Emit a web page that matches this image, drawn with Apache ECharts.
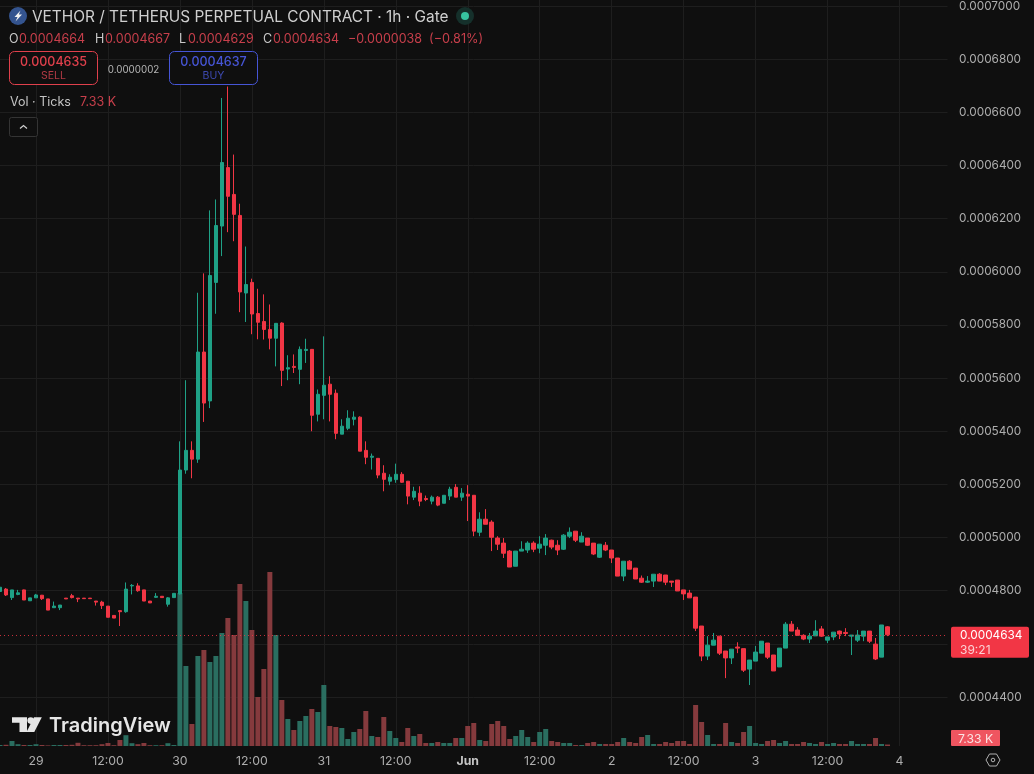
<!DOCTYPE html>
<html>
<head>
<meta charset="utf-8">
<style>html,body{margin:0;padding:0;background:#0f0f0f}#c{width:1034px;height:774px}</style>
<script src="https://cdn.jsdelivr.net/npm/echarts@6/dist/echarts.min.js"></script>
</head>
<body>
<div id="c"></div>
<script>
// VETHOR/USDT hourly candles, 28 May 18:00 to 3 Jun 22:00. Prices are in units of 0.0000001.
const open = [4797,4806,4774,4786,4803,4762,4773,4783,4769,4736,4736,4772,4781,4772,4772,4772,4761,4757,4742,4707,4725,4721,4818,4818,4803,4761,4775,4779,4749,4774,
4788,5254,5328,5295,5698,5514,5960,6172,6392,6291,6212,5920,5960,5843,5813,5783,5750,5807,5634,5644,5633,5704,5708,5464,5535,5577,5543,5389,5411,5445,
5453,5328,5302,5298,5242,5212,5218,5238,5212,5152,5167,5147,5137,5152,5129,5156,5189,5152,5163,5159,5020,5069,5058,4998,4979,4949,4892,4949,4953,4979,
4960,4971,4990,4971,4956,5005,5024,4983,4998,4979,4926,4971,4953,4923,4855,4911,4885,4847,4832,4836,4862,4859,4836,4840,4803,4791,4776,4667,4554,4595,
4629,4573,4547,4588,4582,4505,4535,4565,4603,4558,4513,4584,4674,4652,4632,4618,4630,4656,4614,4626,4648,4643,4629,4614,4629,4648,4599,4550,4664];
const high = [4818,4810,4803,4803,4804,4773,4788,4784,4769,4759,4746,4772,4788,4772,4772,4772,4761,4762,4742,4707,4726,4831,4825,4828,4803,4761,4791,4779,4776,4790,
5362,5592,5362,5921,5994,6231,6272,6654,6697,6441,6256,6095,5974,5936,5915,5877,5806,5810,5686,5689,5719,5748,5708,5557,5757,5607,5557,5445,5479,5475,
5456,5362,5316,5298,5272,5238,5278,5246,5212,5191,5193,5158,5158,5156,5159,5191,5201,5186,5197,5159,5095,5107,5065,5005,4998,4953,4949,4986,4986,4986,
5005,5013,4992,4990,5013,5038,5024,5020,4998,4979,4975,4983,4953,4923,4911,4915,4885,4857,4855,4862,4866,4859,4836,4840,4803,4803,4776,4667,4629,4641,
4629,4573,4580,4606,4582,4539,4592,4610,4603,4558,4584,4682,4686,4663,4636,4641,4689,4667,4626,4644,4650,4659,4633,4652,4648,4648,4622,4671,4667];
const low = [4795,4780,4765,4783,4765,4762,4773,4765,4727,4735,4727,4769,4771,4757,4769,4769,4744,4731,4700,4697,4667,4717,4786,4796,4761,4754,4773,4774,4740,4774,
4785,5240,5223,5281,5435,5487,5842,6059,6149,6115,5848,5811,5765,5746,5745,5708,5644,5570,5592,5619,5577,5657,5400,5437,5445,5437,5370,5389,5404,5422,
5325,5276,5256,5223,5174,5197,5206,5206,5125,5141,5118,5137,5125,5118,5129,5141,5152,5138,5062,5005,5005,5050,4949,4953,4923,4889,4892,4949,4942,4945,
4941,4934,4956,4934,4953,4998,4983,4983,4968,4934,4923,4949,4904,4855,4836,4881,4844,4829,4829,4814,4836,4821,4814,4799,4765,4773,4648,4535,4539,4595,
4558,4471,4524,4565,4494,4445,4535,4565,4543,4498,4513,4584,4648,4632,4614,4603,4630,4626,4603,4614,4618,4629,4558,4607,4610,4603,4539,4550,4629];
const close = [4813,4784,4803,4792,4765,4773,4784,4770,4727,4742,4746,4769,4774,4769,4770,4770,4757,4744,4700,4697,4721,4806,4820,4800,4761,4754,4779,4774,4773,4790,
5254,5328,5295,5698,5506,5986,6174,6411,6284,6216,5924,5952,5841,5810,5783,5750,5806,5629,5639,5640,5708,5708,5460,5539,5573,5539,5392,5419,5449,5453,
5325,5302,5306,5235,5219,5227,5238,5208,5156,5174,5137,5143,5152,5122,5159,5182,5152,5167,5156,5024,5069,5050,5001,4975,4941,4889,4949,4956,4979,4956,
4975,4998,4964,4953,5009,5020,4990,5005,4971,4938,4975,4953,4923,4855,4911,4881,4844,4832,4836,4862,4836,4832,4832,4799,4788,4773,4659,4554,4595,4614,
4565,4547,4580,4584,4501,4539,4569,4610,4550,4498,4584,4674,4648,4632,4618,4629,4648,4629,4626,4644,4637,4639,4633,4633,4648,4610,4543,4671,4634];
// Tick volume per hour, thousands.
const volume = [5,6,25,9,5,5,9,5,3,5,5,5,6,16,4,4,4,9,15,4,30,54,14,9,15,4,4,4,14,5,
765,400,110,450,480,420,450,565,640,555,810,725,580,245,385,870,555,230,135,80,125,150,185,170,305,100,95,90,35,70,
85,175,50,45,145,75,40,20,90,50,60,15,15,20,15,15,40,40,100,115,30,25,110,125,100,35,50,80,45,20,
70,85,25,20,15,15,5,5,15,20,10,10,10,20,40,20,15,45,55,10,10,20,15,25,25,10,205,120,55,10,
10,115,20,15,70,100,15,10,25,30,15,25,10,10,20,15,10,20,10,15,10,10,25,10,10,10,40,10,7.33];
// Time labels, one every 12 slots starting at slot 6 (29 May 00:00).
const timeTicks = ['29','12:00','30','12:00','31','12:00','Jun','12:00','2','12:00','3','12:00','4'];
const firstTickSlot = 6, tickEvery = 12, slotCount = 159;
const lastClose = close[close.length - 1];
const priceMin = 4400, priceMax = 7000, priceStep = 200;
const volumeAxisMax = 3730;

const UP = '#1fa186', DOWN = '#f23645', VOL_UP = '#2a6e60', VOL_DOWN = '#853a3d';
const BG = '#0f0f0f', GRID = '#1e1e1e', AXIS_TEXT = '#adadad', FONT = 'Inter, "Noto Sans", sans-serif';

const slots = Array.from({length: slotCount}, (_, i) => String(i));
const isTick = i => i >= firstTickSlot && (i - firstTickSlot) % tickEvery === 0;
const formatPrice = v => (v / 1e7).toFixed(7);

const candles = open.map((o, i) => [o, close[i], low[i], high[i]]);
const volumeBars = volume.map((v, i) => ({
  value: v,
  itemStyle: {color: close[i] >= open[i] ? VOL_UP : VOL_DOWN}
}));

function txt(x, y, text, fill, size, extra) {
  return {type: 'text', x, y, z: 60, silent: true,
    style: {text, fill, font: (extra && extra.weight || 400) + ' ' + size + 'px ' + FONT,
      textVerticalAlign: 'middle', textAlign: (extra && extra.align) || 'left'}};
}

// Header block, order buttons, watermark and axis tags.
const dimRed = '#c73f4b', SELL = '#e0404c', BUY = '#4655d6';
const overlay = [
  {type: 'circle', z: 60, silent: true, shape: {cx: 18, cy: 16, r: 9}, style: {fill: '#34548f'}},
  {type: 'polygon', z: 61, silent: true, shape: {points: [[20.5,10.5],[14.5,17],[17.5,17],[15.5,21.5],[22,14.5],[18.8,14.5]]}, style: {fill: '#f2f2f2'}},
  txt(32, 17, 'VETHOR / TETHERUS PERPETUAL CONTRACT · 1h · Gate', '#cfcfcf', 15.4),
  {type: 'circle', z: 60, silent: true, shape: {cx: 465, cy: 16, r: 9}, style: {fill: '#15302b'}},
  {type: 'circle', z: 61, silent: true, shape: {cx: 465, cy: 16, r: 4}, style: {fill: '#37c3a0'}},

  txt(9, 39.5, 'O', '#c9c9c9', 12.5), txt(19, 39.5, '0.0004664', dimRed, 12.5),
  txt(95, 39.5, 'H', '#c9c9c9', 12.5), txt(105, 39.5, '0.0004667', dimRed, 12.5),
  txt(179, 39.5, 'L', '#c9c9c9', 12.5), txt(188, 39.5, '0.0004629', dimRed, 12.5),
  txt(263, 39.5, 'C', '#c9c9c9', 12.5), txt(273, 39.5, '0.0004634', dimRed, 12.5),
  txt(348, 39.5, '−0.0000038', dimRed, 12.5), txt(429, 39.5, '(−0.81%)', dimRed, 12.7),

  {type: 'rect', z: 60, silent: true, shape: {x: 9.5, y: 51.5, width: 88, height: 33, r: 5}, style: {fill: BG, stroke: SELL, lineWidth: 1}},
  txt(53.5, 62, '0.0004635', SELL, 12.5, {align: 'center', weight: 500}),
  txt(53.5, 76, 'SELL', '#b23a44', 10.5, {align: 'center'}),
  txt(133.5, 70, '0.0000002', '#b5b5b5', 9.8, {align: 'center'}),
  {type: 'rect', z: 60, silent: true, shape: {x: 169.5, y: 51.5, width: 88, height: 33, r: 5}, style: {fill: BG, stroke: BUY, lineWidth: 1}},
  txt(213.5, 62, '0.0004637', BUY, 12.5, {align: 'center', weight: 500}),
  txt(213.5, 76, 'BUY', '#3d49b0', 10.5, {align: 'center'}),

  txt(10, 102.5, 'Vol · Ticks', '#c4c4c4', 12.5),
  txt(80, 102.5, '7.33 K', dimRed, 12.5),
  {type: 'rect', z: 60, silent: true, shape: {x: 9.5, y: 117.5, width: 28, height: 19, r: 2}, style: {fill: BG, stroke: '#343434', lineWidth: 1}},
  {type: 'polyline', z: 61, silent: true, shape: {points: [[20,128.5],[23.5,125.5],[27,128.5]]}, style: {stroke: '#d0d0d0', lineWidth: 1.2, fill: null}},

  {type: 'polygon', z: 60, silent: true, shape: {points: [[12,717.3],[27,717.3],[27,732],[19.5,732],[19.5,722.7],[12,722.7]]}, style: {fill: '#e6e6e6'}},
  {type: 'circle', z: 60, silent: true, shape: {cx: 30.7, cy: 720.6, r: 3.3}, style: {fill: '#e6e6e6'}},
  {type: 'polygon', z: 60, silent: true, shape: {points: [[34,717.3],[41.8,717.3],[34.3,732],[26.5,732]]}, style: {fill: '#e6e6e6'}},
  txt(49, 725.5, 'TradingView', '#e6e6e6', 20, {weight: 600}),

  {type: 'rect', z: 60, silent: true, shape: {x: 951, y: 730, width: 49, height: 16, r: 1}, style: {fill: '#ef5560'}},
  txt(975.5, 739, '7.33 K', '#fbe4e4', 12.2, {align: 'center'}),

  {type: 'polygon', z: 60, silent: true, shape: {points: [[986,760],[989.5,754],[996.5,754],[1000,760],[996.5,766],[989.5,766]]}, style: {fill: null, stroke: '#b0b0b0', lineWidth: 1}},
  {type: 'circle', z: 60, silent: true, shape: {cx: 993, cy: 760, r: 1.8}, style: {fill: null, stroke: '#b0b0b0', lineWidth: 1}}
];

const chart = echarts.init(document.getElementById('c'), null, {renderer: 'canvas'});
chart.setOption({
  backgroundColor: BG,
  animation: false,
  textStyle: {fontFamily: FONT},
  grid: [
    {left: -0.5, top: 5.4, width: 948, height: 691.6},
    {left: -0.5, top: 0, width: 948, height: 746}
  ],
  xAxis: [
    {type: 'category', gridIndex: 0, data: slots, boundaryGap: false, show: false},
    {type: 'category', gridIndex: 1, data: slots, boundaryGap: false,
      axisLine: {show: false}, axisTick: {show: false},
      splitLine: {show: true, interval: isTick, lineStyle: {color: GRID, width: 1}},
      axisLabel: {
        interval: isTick, margin: 9, color: AXIS_TEXT, fontSize: 12.3, fontFamily: FONT, hideOverlap: false,
        formatter: (v, i) => {
          const t = timeTicks[(i - firstTickSlot) / tickEvery];
          return t === 'Jun' ? '{b|Jun}' : t;
        },
        rich: {b: {fontWeight: 700, color: '#c4c4c4', fontSize: 12.3, fontFamily: FONT}}
      }}
  ],
  yAxis: [
    {type: 'value', gridIndex: 0, position: 'right', min: priceMin, max: priceMax, interval: priceStep,
      axisLine: {show: false}, axisTick: {show: false},
      splitLine: {show: true, lineStyle: {color: GRID, width: 1}},
      axisLabel: {color: AXIS_TEXT, fontSize: 11.8, fontFamily: FONT, margin: 11.5, padding: [2, 0, 0, 0], formatter: formatPrice}},
    {type: 'value', gridIndex: 1, min: 0, max: volumeAxisMax, show: false, splitLine: {show: false}}
  ],
  series: [
    {type: 'bar', name: 'Vol', xAxisIndex: 1, yAxisIndex: 1, data: volumeBars, barWidth: 5, z: 1, silent: true},
    {type: 'candlestick', name: 'VETHOR', xAxisIndex: 0, yAxisIndex: 0, data: candles, barWidth: 4, z: 2, silent: true,
      itemStyle: {color: UP, color0: DOWN, borderColor: UP, borderColor0: DOWN, borderWidth: 1},
      markLine: {silent: true, symbol: 'none', label: {show: false}, animation: false,
        lineStyle: {color: DOWN, type: [1, 3], width: 1, opacity: 0.8},
        data: [{yAxis: lastClose}]}}
  ],
  graphic: overlay
});

// Last-price tag follows the closing value on the price axis.
const tagY = chart.convertToPixel({yAxisIndex: 0}, lastClose);
chart.setOption({graphic: overlay.concat([
  {type: 'rect', z: 60, silent: true, shape: {x: 951, y: tagY - 8, width: 78, height: 31, r: 2}, style: {fill: DOWN}},
  txt(960, tagY + 1, formatPrice(lastClose), '#ffffff', 11.8),
  txt(960, tagY + 16, '39:21', '#fbd2d5', 12)
])});
</script>
</body>
</html>
